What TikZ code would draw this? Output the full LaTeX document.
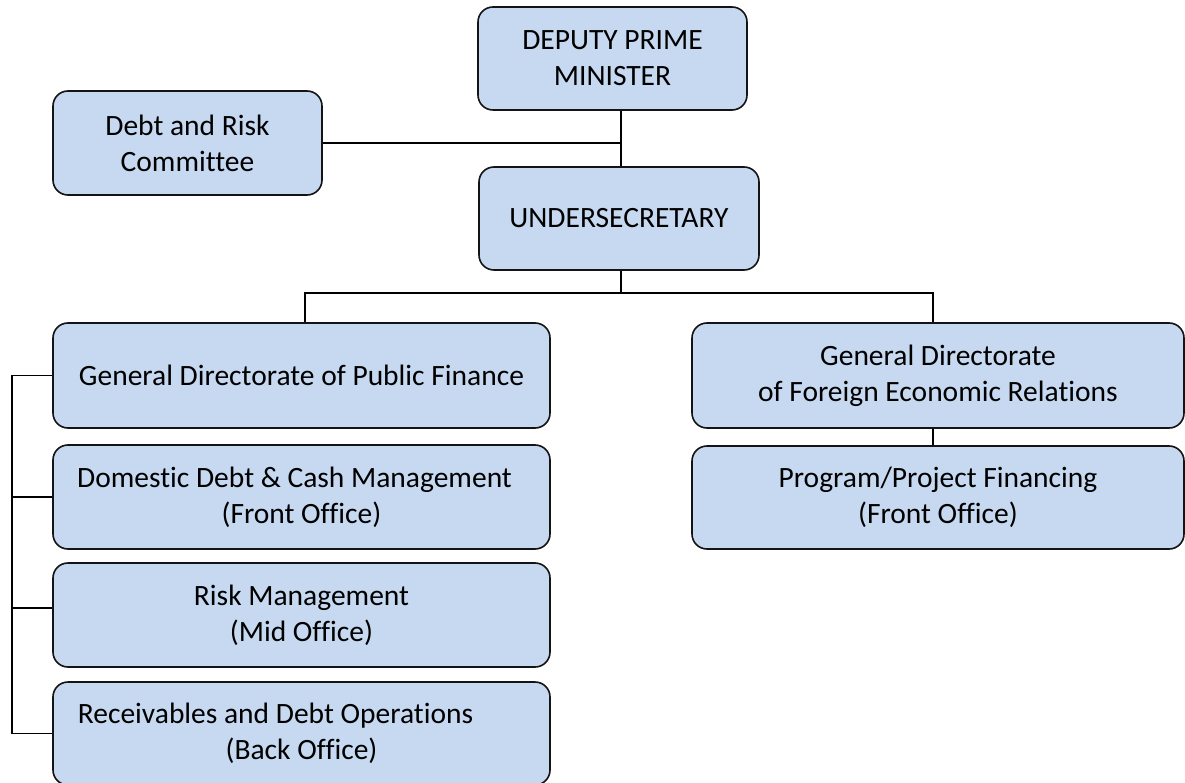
\documentclass[tikz,border=0pt]{standalone}
\usepackage{fontspec}
\setmainfont[Ligatures=NoCommon]{Carlito}
\definecolor{boxfill}{RGB}{198,217,240}
\definecolor{boxline}{RGB}{20,20,20}
\begin{document}
\begin{tikzpicture}[x=1pt,y=-1pt,
  orgbox/.style={draw=boxline, fill=boxfill, line width=1.6pt, rounded corners=15pt,
    inner sep=0pt, align=center, font=\fontsize{29.5}{36}\selectfont, text=black},
  link/.style={draw=black, line width=1.5pt}]
\useasboundingbox (0,0) rectangle (1185,783);
\node[orgbox, minimum width=269pt, minimum height=103pt] (dpm) at (612.5,58.5) {DEPUTY PRIME\\MINISTER};
\node[orgbox, minimum width=269pt, minimum height=104pt] (drc) at (187.5,143) {Debt and Risk\\Committee};
\node[orgbox, minimum width=280pt, minimum height=103pt] (us) at (619,218.5) {UNDERSECRETARY};
\node[orgbox, minimum width=497pt, minimum height=105pt] (gdpf) at (301.5,375.5) {General Directorate of Public Finance};
\node[orgbox, minimum width=497pt, minimum height=104pt] (dom) at (301.5,497) {\mbox{Domestic Debt \& Cash Management\hspace{14pt}}\\(Front Office)};
\node[orgbox, minimum width=497pt, minimum height=104pt] (risk) at (301.5,615) {Risk Management\\(Mid Office)};
\node[orgbox, minimum width=497pt, minimum height=103pt] (rec) at (301.5,733.5) {\mbox{Receivables and Debt Operations\hspace{52pt}}\\(Back Office)};
\node[orgbox, minimum width=492pt, minimum height=105pt] (gdfer) at (938,375.5) {General Directorate\\of Foreign Economic Relations};
\node[orgbox, minimum width=492pt, minimum height=103pt] (prog) at (938,497.5) {Program/Project Financing\\(Front Office)};
\coordinate (spine) at (621,140);
\coordinate (bus) at (621,293);
\coordinate (leftdrop) at (305,293);
\coordinate (rightdrop) at (933,293);
\coordinate (bracket) at (12,375);
\draw[link] (dpm.south -| spine) -- (us.north -| spine);
\draw[link] (drc.east) -- (drc.east -| spine);
\draw[link] (us.south -| bus) -- (bus);
\draw[link] (gdpf.north -| leftdrop) -- (leftdrop) -- (rightdrop) -- (gdfer.north -| rightdrop);
\draw[link] (gdfer.south -| rightdrop) -- (prog.north -| rightdrop);
\draw[link] (gdpf.west) -- (gdpf.west -| bracket) -- (rec.west -| bracket) -- (rec.west);
\draw[link] (dom.west) -- (dom.west -| bracket);
\draw[link] ([yshift=7pt]risk.west) -- ([yshift=7pt]risk.west -| bracket);
\end{tikzpicture}
\end{document}
